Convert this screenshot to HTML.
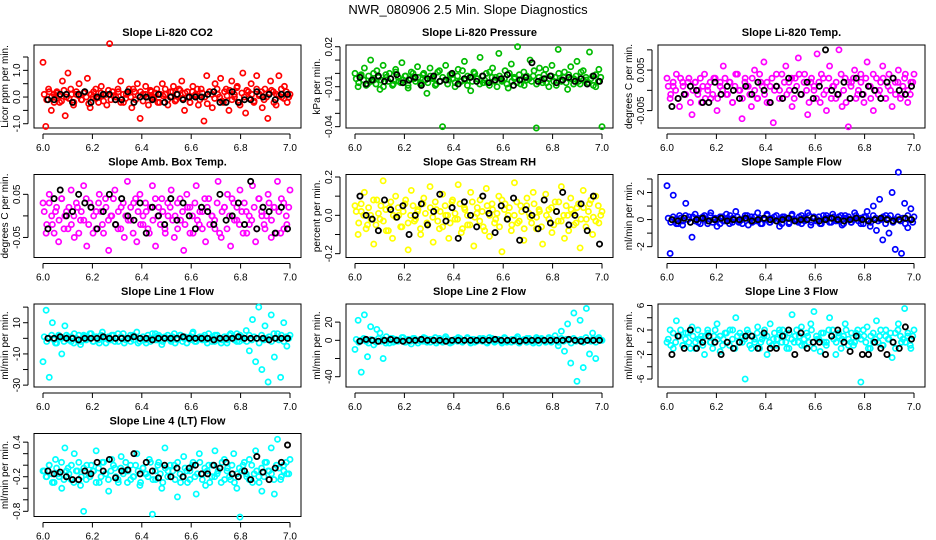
<!DOCTYPE html>
<html><head><meta charset="utf-8"><style>
html,body{margin:0;padding:0;background:#fff;}
svg{display:block;font-family:"Liberation Sans",sans-serif;}
</style></head><body>
<svg id="chart" width="936" height="540" viewBox="0 0 936 540">
<text x="468" y="14" text-anchor="middle" font-size="13">NWR_080906  2.5 Min. Slope Diagnostics</text>
</svg>
<script>
const titles=["Slope Li-820 CO2","Slope Li-820 Pressure","Slope Li-820 Temp.","Slope Amb. Box Temp.","Slope Gas Stream RH","Slope Sample Flow","Slope Line 1 Flow","Slope Line 2 Flow","Slope Line 3 Flow","Slope Line 4 (LT) Flow"];
const yTitles=["Licor ppm per min.","kPa per min.","degrees C per min.","degrees C per min.","percent per min.","ml/min per min.","ml/min per min.","ml/min per min.","ml/min per min.","ml/min per min."];
const colors=["#ff0000","#00bb00","#ff00ff","#ff00ff","#ffff00","#0000ff","#00ffff","#00ffff","#00ffff","#00ffff"];
const yRanges=[[-1.16,1.95],[-0.041,0.0213],[-0.0093,0.0112],[-0.0965,0.096],[-0.22,0.213],[-2.8,3.33],[-31.2,22],[-51.3,39.9],[-7.3,6.24],[-0.89,0.55]];
const yTicks=[[-1,-0.5,0,0.5,1,1.5],[-0.04,-0.03,-0.02,-0.01,0,0.01,0.02],[-0.005,0,0.005,0.01],[-0.05,0,0.05],[-0.2,-0.1,0,0.1,0.2],[-2,-1,0,1,2,3],[-30,-20,-10,0,10,20],[-40,-20,0,20],[-6,-4,-2,0,2,4,6],[-0.8,-0.6,-0.4,-0.2,0,0.2,0.4]];
const yLabels=[["-1.0","","0.0","","1.0",""],["-0.04","","","-0.01","","","0.02"],["-0.005","","0.005",""],["-0.05","","0.05"],["-0.2","","0.0","","0.2"],["-2","","0","","2",""],["-30","","-10","","10",""],["-40","","0","20"],["-6","","-2","","2","","6"],["-0.8","","","-0.2","","","0.4"]];
const xTicks=[6.0,6.2,6.4,6.6,6.8,7.0];
const xLabels=["6.0","6.2","6.4","6.6","6.8","7.0"];
const p1c=[1.3,-1.1,0.3,-0.5,0.1,0.2,-0.2,0.6,-0.7,0.9,0.3,-0.3,0.1,0.5,-0.1,0.2,0.7,-0.4,0.0,0.3,-0.2,0.4,0.1,-0.3,2.0,0.2,-0.1,0.3,0.6,-0.2,0.1,0.3,-0.4,0.2,0.5,-0.8,0.1,0.4,-0.3,0.2,0.0,0.3,-0.2,0.5,0.1,-0.3,0.2,0.4,-0.1,0.3,0.6,-0.5,0.2,-0.2,0.4,0.1,-0.3,0.3,-0.9,0.8,0.2,-0.4,0.5,0.1,0.7,-0.2,0.3,-0.5,0.6,0.0,0.4,-0.3,0.9,-0.6,0.2,0.5,-0.2,0.8,0.1,-0.4,0.3,-0.8,0.6,0.2,-0.3,0.8,0.0,0.4,-0.2,0.1];
const p1core=[0.1,-0.1,0.2,0.0,-0.2,0.15,0.05,-0.15,0.25,0.0,-0.05,0.1,-0.2,0.2,0.05,-0.1,0.15,0.0,-0.25,0.1,0.2,-0.05,0.0,0.15,-0.15,0.1,0.25,-0.1,0.05,0.0,0.2,-0.2,0.1,-0.05,0.15,0.0,0.3,-0.1,0.05,0.2,-0.15,0.1,0.0,0.25,-0.05,0.15,-0.2,0.1,0.05,0.3,-0.1,0.0,0.2,-0.15,0.1,0.25,-0.05,0.15,0.0,-0.2,0.2,0.05,0.3,-0.1,0.15,0.0,-0.25,0.2,0.1,-0.05,0.3,0.0,-0.15,0.2,0.05,0.25,-0.1,0.1,0.35,-0.2,0.15,0.0,0.25,-0.05,0.1,-0.15,0.3,0.05,0.2,-0.1,0.0,0.15,0.25,-0.2,0.1,0.05,0.3,-0.05,0.2,0.0];
const p1k=[-0.1,-0.1,0.1,0.1,-0.2,0.1,0.2,-0.2,0.0,0.1,0.1,-0.1,-0.1,0.2,-0.2,0.0,0.0,-0.1,0.1,-0.2,0.0,0.1,-0.1,0.0,0.0,0.0,0.1,0.2,-0.2,-0.2,0.2,-0.2,-0.1,-0.1,0.2,0.0,0.1,-0.1,0.1,0.1];
const p2c=[0.0,-0.01,-0.002,0.004,-0.008,0.01,-0.005,0.002,-0.012,0.006,-0.003,0.0,-0.009,0.003,-0.006,0.008,-0.002,-0.011,0.001,-0.004,0.005,-0.007,0.0,-0.015,0.004,-0.003,-0.008,0.002,-0.04,0.006,-0.005,-0.001,-0.01,0.003,-0.006,0.009,-0.002,-0.013,0.001,-0.004,0.012,-0.007,0.0,-0.009,0.004,-0.003,0.015,-0.006,0.002,-0.011,0.007,-0.004,0.02,-0.008,0.001,-0.005,0.01,-0.002,-0.041,0.004,-0.007,0.003,-0.01,0.006,-0.003,0.018,-0.006,0.001,-0.012,0.005,-0.004,0.009,-0.008,0.002,-0.005,0.016,-0.002,-0.01,0.003,-0.04];
const p2core=[-0.004,-0.007,-0.001,-0.005,-0.009,-0.002,-0.006,0.0,-0.008,-0.003,-0.005,-0.01,-0.001,-0.006,-0.004,-0.008,0.001,-0.003,-0.007,-0.005,-0.002,-0.009,-0.004,0.0,-0.006,-0.003,-0.008,-0.001,-0.005,-0.007,-0.002,-0.004,-0.009,0.001,-0.006,-0.003,-0.005,-0.008,-0.001,-0.004,-0.007,-0.002,-0.006,0.002,-0.005,-0.009,-0.003,-0.006,0.0,-0.004,-0.008,-0.002,-0.005,-0.007,0.001,-0.003,-0.006,-0.01,-0.002,-0.005,-0.004,-0.008,0.0,-0.006,-0.003,-0.007,-0.001,-0.005,-0.009,-0.002,-0.004,-0.006,0.002,-0.008,-0.003,-0.005,-0.001,-0.007,-0.004,-0.002,-0.006,-0.009,0.0,-0.005,-0.003,-0.007,-0.001,-0.004,-0.008,-0.002,-0.006,0.001,-0.005,-0.003,-0.007,-0.004,-0.009,-0.001,-0.006,-0.003];
const p2k=[-0.003,-0.008,-0.005,-0.002,-0.006,-0.004,-0.001,-0.007,-0.005,-0.003,-0.009,-0.004,-0.002,-0.006,-0.005,0.0,-0.008,-0.004,-0.003,-0.006,-0.002,-0.007,-0.005,-0.004,-0.001,-0.009,-0.005,-0.003,0.008,-0.006,-0.004,-0.002,-0.007,-0.005,-0.003,-0.006,-0.004,-0.008,-0.002,-0.006];
const p3c=[0.003,-0.002,0.001,0.004,-0.004,0.002,-0.001,0.003,-0.006,0.002,0.0,-0.003,0.004,0.001,-0.002,0.003,-0.005,0.002,0.006,-0.001,0.002,-0.003,0.004,0.0,-0.007,0.003,0.001,-0.004,0.005,-0.002,0.002,0.007,-0.003,0.001,-0.008,0.004,0.0,-0.002,0.006,0.002,-0.004,0.003,0.008,-0.001,0.004,-0.006,0.002,0.0,0.009,-0.003,0.003,-0.005,0.006,0.001,-0.002,0.01,-0.004,0.003,-0.009,0.002,0.005,-0.001,0.004,-0.003,0.007,0.001,-0.005,0.003,0.0,0.006,-0.002,0.004,-0.004,0.002,0.005,-0.001,0.003,-0.003,0.002,0.004];
const p3core=[0.001,-0.001,0.002,0.0,-0.002,0.003,0.001,-0.001,0.002,-0.003,0.0,0.002,-0.001,0.003,0.001,-0.002,0.0,0.002,-0.001,0.003,-0.002,0.001,0.0,0.003,-0.001,0.002,-0.003,0.001,0.004,0.0,-0.002,0.002,0.001,-0.001,0.003,0.0,-0.002,0.004,0.001,-0.001,0.002,-0.003,0.003,0.0,0.001,-0.002,0.004,0.002,-0.001,0.0,0.003,-0.002,0.001,0.004,-0.001,0.002,0.0,-0.003,0.003,0.001,-0.002,0.002,0.004,-0.001,0.0,0.003,-0.002,0.001,0.002,-0.001,0.004,0.0,-0.003,0.002,0.001,0.003,-0.002,0.0,0.002,-0.001,0.003,0.001,-0.002,0.004,0.0,-0.001,0.002,0.003,-0.002,0.001,0.0,0.003,-0.001,0.002,-0.002,0.001,0.004,0.0,-0.001,0.002];
const p3k=[-0.004,-0.002,-0.001,0.001,0.0,-0.003,-0.003,0.002,-0.001,0.001,0.0,-0.002,0.001,-0.001,0.002,0.0,-0.003,0.001,-0.002,0.003,0.0,-0.001,0.002,-0.002,0.001,0.01,0.0,-0.001,0.002,-0.002,0.003,-0.001,0.001,0.0,-0.002,0.002,0.003,0.0,-0.001,0.001];
const p4c=[0.03,-0.04,0.05,-0.02,0.01,-0.06,0.04,0.0,-0.03,0.06,-0.05,0.02,-0.01,0.07,-0.07,0.03,-0.04,0.01,0.05,-0.02,0.04,-0.08,0.0,0.06,-0.03,0.02,-0.05,0.08,-0.01,0.03,-0.06,0.05,-0.02,0.01,-0.04,0.07,-0.07,0.02,0.04,-0.03,0.0,0.06,-0.05,0.03,-0.01,-0.08,0.05,0.02,-0.04,0.07,-0.02,0.01,-0.06,0.04,0.0,-0.03,0.08,-0.05,0.02,0.05,-0.07,0.03,-0.01,0.06,-0.04,0.01,-0.02,0.07,-0.06,0.04,0.0,-0.03,0.05,-0.05,0.02,0.08,-0.04,0.03,-0.02,0.06];
const p4core=[0.01,-0.02,0.03,0.0,-0.04,0.02,-0.01,0.04,-0.03,0.01,0.02,-0.02,0.0,0.03,-0.04,0.01,-0.01,0.04,-0.02,0.02,0.0,-0.03,0.03,0.01,-0.04,0.02,-0.01,0.0,0.04,-0.02,0.01,-0.03,0.03,0.0,-0.01,0.02,-0.04,0.04,0.01,-0.02,0.0,0.03,-0.03,0.02,-0.01,0.04,0.0,-0.02,0.01,-0.04,0.03,0.02,-0.01,0.0,-0.03,0.04,0.01,-0.02,0.02,-0.04,0.0,0.03,-0.01,0.01,-0.03,0.04,0.02,-0.02,0.0,-0.01,0.03,-0.04,0.01,0.02,-0.03,0.0,0.04,-0.01,0.02,-0.02,0.01,0.03,-0.04,0.0,-0.01,0.02,-0.03,0.04,0.01,-0.02,0.0,0.03,-0.01,0.02,-0.04,0.01,0.04,-0.03,0.0,0.02];
const p4k=[-0.03,0.04,0.06,0.0,0.01,0.05,0.03,0.02,-0.03,0.01,0.05,-0.02,0.04,0.0,-0.01,0.03,-0.04,0.02,0.0,-0.02,0.04,-0.01,0.03,0.0,-0.03,0.02,0.01,-0.02,0.05,-0.01,0.0,0.03,-0.02,0.08,-0.03,0.02,0.01,-0.04,0.02,-0.03];
const p5c=[0.05,-0.1,0.02,0.12,-0.05,0.0,-0.15,0.08,-0.02,0.18,-0.08,0.04,-0.12,0.1,0.0,-0.06,0.06,-0.18,0.13,-0.03,0.02,-0.1,0.09,-0.04,0.15,-0.14,0.03,-0.07,0.11,0.0,-0.12,0.07,-0.02,0.16,-0.09,0.04,-0.05,0.12,-0.16,0.01,0.08,-0.06,0.14,-0.11,0.03,-0.02,0.1,-0.19,0.06,0.0,-0.08,0.17,-0.04,0.05,-0.13,0.09,-0.01,0.12,-0.07,0.02,-0.15,0.11,0.03,-0.09,0.07,-0.03,0.15,-0.12,0.0,0.09,-0.05,0.04,-0.17,0.13,-0.02,0.06,-0.1,0.1,-0.04,0.02];
const p5core=[0.02,-0.04,0.06,0.0,-0.07,0.04,-0.02,0.08,-0.05,0.01,0.05,-0.03,0.03,-0.08,0.07,0.0,-0.01,0.04,-0.06,0.02,0.08,-0.04,0.0,0.05,-0.02,0.03,-0.07,0.06,0.01,-0.05,0.04,-0.01,0.07,-0.03,0.02,-0.06,0.05,0.0,-0.04,0.08,0.01,-0.02,0.06,-0.07,0.03,0.0,-0.05,0.07,-0.01,0.04,-0.03,0.02,-0.08,0.05,0.0,0.06,-0.04,0.01,-0.06,0.08,0.03,-0.02,0.04,-0.05,0.0,0.07,-0.03,0.02,-0.07,0.05,0.01,-0.04,0.06,-0.01,0.03,-0.06,0.08,0.0,-0.02,0.04,-0.05,0.02,0.07,-0.03,0.0,0.05,-0.08,0.03,0.01,-0.04,0.06,-0.02,0.04,-0.06,0.02,0.08,-0.01,-0.03,0.05,0.0];
const p5k=[0.1,0.0,-0.02,-0.08,0.08,0.03,-0.01,0.05,-0.1,0.0,0.06,-0.05,0.02,0.11,-0.03,0.04,-0.12,0.07,0.0,-0.06,0.1,0.01,-0.09,0.05,-0.02,0.09,-0.13,0.03,0.0,-0.07,0.08,-0.04,0.02,0.12,-0.05,0.0,0.06,-0.08,0.1,-0.15];
const p6c=[2.5,-2.5,1.8,-0.3,0.3,-0.4,1.2,0.2,-1.3,0.4,-0.2,0.1,0.3,-0.3,0.5,0.0,-0.5,0.2,-0.1,0.4,-0.3,0.1,0.6,-0.2,0.0,0.3,-0.4,0.2,-0.1,0.5,-0.3,0.1,0.4,-0.2,0.0,0.3,-0.5,0.2,0.1,-0.3,0.4,0.0,-0.2,0.3,-0.1,0.5,-0.4,0.2,0.0,-0.3,0.3,0.1,-0.2,0.4,-0.1,0.2,-0.4,0.3,0.0,-0.2,0.5,0.1,-0.3,0.2,0.6,-0.5,1.0,-0.8,1.5,-1.5,0.3,-1.0,2.0,-2.2,3.5,-2.5,1.2,-0.6,0.8,0.2];
const p6core=[0.1,-0.2,0.2,0.0,-0.3,0.1,-0.1,0.3,0.0,-0.2,0.2,-0.1,0.1,-0.3,0.2,0.0,-0.1,0.3,-0.2,0.1,0.0,-0.3,0.2,-0.1,0.1,0.3,-0.2,0.0,0.2,-0.1,-0.3,0.1,0.3,0.0,-0.2,0.2,-0.1,0.1,-0.3,0.0,0.3,-0.2,0.1,0.2,-0.1,0.0,-0.3,0.2,0.1,-0.2,0.3,0.0,-0.1,0.2,-0.3,0.1,0.0,0.3,-0.2,0.1,-0.1,0.2,-0.3,0.0,0.3,0.1,-0.2,0.2,0.0,-0.1,0.3,-0.3,0.1,0.2,-0.2,0.0,0.3,-0.1,0.1,-0.3,0.2,0.0,-0.2,0.3,0.1,-0.1,0.0,0.2,-0.3,0.1,0.3,-0.2,0.0,0.2,-0.1,0.1,-0.3,0.3,0.0,-0.2];
const p6k=[0.0,-0.1,0.1,-0.2,0.0,0.1,-0.1,0.0,0.1,-0.1,0.0,0.0,0.1,-0.1,0.0,0.1,0.0,-0.1,0.0,0.1,-0.1,0.0,0.0,0.1,-0.1,0.0,0.1,0.0,-0.1,0.0,0.1,0.0,-0.1,0.0,0.1,0.0,-0.1,0.0,0.1,0.0];
const p7c=[-15,18,-25,10,-3,2,-10,8,1,-2,3,-1,-4,2,0,3,-2,1,-3,4,0,-1,2,-2,3,1,-3,0,2,-1,4,-2,1,-3,0,3,-1,2,-4,1,0,-2,3,-1,2,0,-3,1,4,-2,0,1,-1,3,-2,2,0,-3,1,-1,3,0,-2,2,-1,5,-8,12,-15,20,-20,8,-28,15,-12,3,-25,10,-5,2];
const p7core=[1,-2,0,2,-1,-3,1,0,-2,2,-1,1,-3,0,2,-2,1,-1,0,3,-2,1,-1,2,0,-3,1,-1,2,0,-2,1,3,-1,0,-2,2,1,-3,0,1,-1,2,-2,0,3,-1,1,-2,0,2,-1,1,-3,0,2,-2,1,0,-1,3,-2,0,1,-1,2,-3,0,1,-2,2,0,-1,1,-3,2,0,-1,3,-2,1,0,-2,2,-1,1,0,-3,2,-1,0,1,-2,3,0,-1,2,-2,1,0];
const p7k=[0,0,1,0,0,-1,0,0,0,1,0,0,0,0,1,0,0,-1,0,0,0,0,1,0,0,0,0,-1,0,0,0,1,0,0,0,0,-1,0,0,0];
const p8c=[-10,22,-35,28,-18,15,-5,12,8,-20,4,-3,2,-1,0,3,-2,1,-4,2,0,-1,3,-2,1,0,-3,2,-1,4,0,-2,1,3,-1,0,2,-3,1,-1,0,2,-2,3,0,-1,1,-3,2,0,-2,1,4,-1,0,2,-1,-3,3,0,1,-2,2,-1,5,-6,10,-12,18,-25,30,-45,22,-30,35,-15,8,-20,3,0];
const p8core=[1,-2,0,2,-1,-3,1,0,-2,2,-1,1,-3,0,2,-2,1,-1,0,3,-2,1,-1,2,0,-3,1,-1,2,0,-2,1,3,-1,0,-2,2,1,-3,0,1,-1,2,-2,0,3,-1,1,-2,0,2,-1,1,-3,0,2,-2,1,0,-1,3,-2,0,1,-1,2,-3,0,1,-2,2,0,-1,1,-3,2,0,-1,3,-2,1,0,-2,2,-1,1,0,-3,2,-1,0,1,-2,3,0,-1,2,-2,1,0];
const p8k=[-1,1,0,-1,0,1,0,-1,0,0,1,0,0,0,-1,0,0,0,0,0,0,0,1,0,0,0,-1,0,0,0,0,0,0,0,1,0,-1,0,0,0];
const p9c=[0,2,-1,3.5,1,-0.5,1.5,0,2.5,-1,0.5,1,-2,2,0,1,3,-1.5,0.5,1.5,-0.5,2,4,0,1,-6,1.5,-1,0.5,2.5,0,1,-2,3,0.5,-0.5,1.5,2,0,-1,4.5,1,0,2.5,-0.5,1,3,5,0.5,-1.5,1.5,0,4,2,-2,1,0.5,3,-0.5,1.5,0,2,-6.5,1,2.5,-1,0,3.5,1,-0.5,2,0.5,-2.5,1.5,3,0,5.5,1,-1,2];
const p9core=[0.5,-0.5,1.5,0,1,2,-0.5,0.5,1.5,-1,1,0,2,0.5,-0.5,1,1.5,0,-1,2,0.5,1,-0.5,1.5,0,2,0.5,-1,1,1.5,0,0.5,2,-0.5,1,0,1.5,-1,0.5,2,1,0,-0.5,1.5,0.5,2,0,1,-1,1.5,0.5,0,2,1,-0.5,0.5,1.5,0,2,-1,1,0.5,1.5,0,-0.5,2,1,0.5,0,1.5,-1,1,2,0.5,0,-0.5,1.5,1,0.5,2,0,-1,1,1.5,0.5,0,2,-0.5,1,0.5,1.5,0,-1,2,1,0.5,0,1.5,-0.5,1];
const p9k=[-2,1,-1,2,-1,0,1,0,-2,0,-1,0,1,1,-1,1.5,-1,-1,1,2,-2,1.5,-1,0,0,-2,1,2,0,-1.5,1,-2,-2,0,-1,-2,0,-1,2.5,0.5];
const p10c=[-0.1,-0.2,0.0,-0.3,0.1,-0.15,-0.4,0.3,-0.05,-0.25,0.2,-0.1,-0.35,-0.8,0.0,-0.2,-0.1,0.25,-0.3,0.05,-0.15,-0.45,0.1,-0.05,-0.25,0.15,-0.1,-0.3,0.0,-0.2,0.2,-0.35,-0.05,-0.15,0.1,-0.85,-0.25,0.05,-0.4,0.3,-0.1,-0.2,0.0,-0.55,-0.3,0.15,-0.1,-0.25,0.05,-0.5,0.2,-0.15,-0.35,0.0,-0.2,0.25,-0.1,-0.3,0.1,-0.05,-0.25,0.2,-0.4,-0.9,0.0,-0.15,0.1,-0.3,0.25,-0.2,-0.45,0.05,-0.1,0.3,-0.5,0.45,-0.25,0.0,-0.15,0.1];
const p10core=[-0.1,-0.2,0.0,-0.15,-0.3,-0.05,-0.2,0.05,-0.25,-0.1,-0.15,0.0,-0.3,-0.1,0.05,-0.2,-0.05,-0.25,-0.15,0.0,-0.1,-0.3,-0.05,-0.2,0.05,-0.15,-0.25,-0.1,0.0,-0.2,-0.3,-0.05,-0.15,0.05,-0.1,-0.25,-0.2,0.0,-0.1,-0.3,-0.05,-0.15,-0.2,0.05,-0.25,-0.1,0.0,-0.15,-0.3,-0.05,-0.2,0.0,-0.1,-0.25,0.05,-0.15,-0.2,-0.05,-0.3,-0.1,0.0,-0.2,-0.15,0.05,-0.25,-0.05,-0.1,-0.3,0.0,-0.2,-0.15,-0.05,0.05,-0.25,-0.1,-0.2,0.0,-0.3,-0.15,-0.05,-0.1,0.05,-0.2,-0.25,0.0,-0.15,-0.1,-0.3,-0.05,-0.2,0.05,-0.1,-0.15,-0.25,0.0,-0.05,-0.2,-0.1,0.05,-0.15];
const p10k=[-0.1,-0.15,-0.12,-0.2,-0.25,-0.25,-0.1,-0.15,0.05,-0.1,0.1,-0.22,-0.1,-0.08,0.2,-0.15,0.05,-0.1,-0.22,0.0,-0.2,-0.05,-0.2,-0.05,0.0,-0.15,-0.15,0.0,-0.05,0.05,-0.15,-0.2,-0.1,-0.25,0.15,-0.12,-0.25,-0.05,0.05,0.35];
const colorSeries=[p1c,p2c,p3c,p4c,p5c,p6c,p7c,p8c,p9c,p10c];
const coreSeries=[p1core,p2core,p3core,p4core,p5core,p6core,p7core,p8core,p9core,p10core];
const blackSeries=[p1k,p2k,p3k,p4k,p5k,p6k,p7k,p8k,p9k,p10k];

const NS="http://www.w3.org/2000/svg";
const svg=document.getElementById('chart');
function mk(tag,attrs,parent,text){const e=document.createElementNS(NS,tag);for(const k in attrs)e.setAttribute(k,attrs[k]);if(text!==undefined)e.textContent=text;parent.appendChild(e);return e;}
const colX=[34,346,658], rowY=[45,174.5,304,433.5], W=267, H=83;
for(let p=0;p<10;p++){
  const bx=colX[p%3], by=rowY[Math.floor(p/3)];
  const g=mk('g',{},svg);
  
  
  const xs=v=>bx+9+(v-6)*247;
  const [y0,y1]=yRanges[p];
  const ys=v=>by+H-(v-y0)/(y1-y0)*H;
  const t=mk('text',{x:bx+W/2,y:by-9,'text-anchor':'middle','font-size':'11','font-weight':'bold'},g,titles[p]);
  
  
  const fr=mk('rect',{x:bx,y:by,width:W,height:H,fill:'none',stroke:'#000','stroke-width':1},g);
  
  
  const xa=mk('g',{},g);
  
  
  mk('line',{x1:xs(6),x2:xs(7),y1:by+H+6,y2:by+H+6,stroke:'#000'},xa);
  xTicks.forEach((v,i)=>{
    mk('line',{x1:xs(v),x2:xs(v),y1:by+H+6,y2:by+H+11,stroke:'#000'},xa);
    const l=mk('text',{x:xs(v),y:by+H+23,'text-anchor':'middle','font-size':'10'},xa,xLabels[i]);
    
    
  });
  const ya=mk('g',{},g);
  
  
  const tk=yTicks[p];
  mk('line',{x1:bx-6,x2:bx-6,y1:ys(tk[0]),y2:ys(tk[tk.length-1]),stroke:'#000'},ya);
  tk.forEach((v,i)=>{
    const yy=ys(v);
    mk('line',{x1:bx-11,x2:bx-6,y1:yy,y2:yy,stroke:'#000'},ya);
    if(yLabels[p][i]){
      const l=mk('text',{x:bx-14,y:yy,'text-anchor':'middle','font-size':'10',transform:`rotate(-90 ${bx-14} ${yy})`},ya,yLabels[p][i]);
      
      
    }
  });
  const yt=mk('text',{x:bx-26,y:by+H/2,'text-anchor':'middle','font-size':'10',transform:`rotate(-90 ${bx-26} ${by+H/2})`},g,yTitles[p]);
  
  
  const cg=mk('g',{fill:'none',stroke:colors[p],'stroke-width':1.7},g);
  
  
  const cs=colorSeries[p];
  cs.forEach((v,i)=>{
    const c=mk('circle',{cx:xs(6+i/(cs.length-1)),cy:ys(v),r:2.6},cg);
    
    
  });
  const co=coreSeries[p];
  co.forEach((v,i)=>{
    const c=mk('circle',{cx:xs(6.005+0.99*i/(co.length-1)),cy:ys(v),r:2.6},cg);
    
    
  });
  const kg=mk('g',{fill:'none',stroke:'#000','stroke-width':1.8},g);
  
  
  const ks=blackSeries[p];
  ks.forEach((v,i)=>{
    const c=mk('circle',{cx:xs(6.02+0.97*i/(ks.length-1)),cy:ys(v),r:2.6},kg);
    
    
  });
}
</script>
</body></html>
